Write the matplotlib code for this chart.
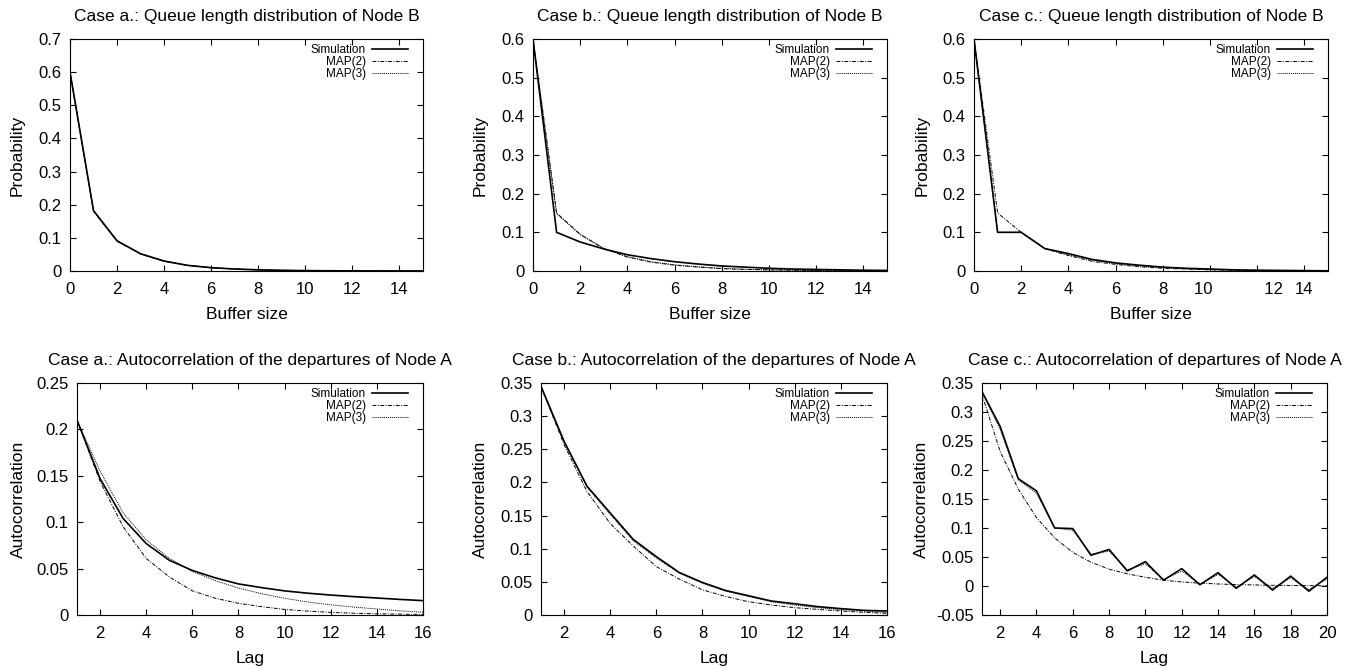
import matplotlib
matplotlib.use('Agg')
import matplotlib.pyplot as plt
from matplotlib.ticker import FuncFormatter

plt.rcParams['font.family'] = ['Liberation Sans', 'DejaVu Sans']

# queue length distributions of node B (buffer size 0..15)
buf = list(range(16))
qa_sim = [0.6, 0.182, 0.091, 0.052, 0.030, 0.017, 0.010, 0.006, 0.0035, 0.002, 0.0012, 0.0007, 0.0004, 0.0002, 0.0001, 0.0001]
qa_map2 = [0.6, 0.180, 0.090, 0.051, 0.029, 0.017, 0.010, 0.006, 0.0033, 0.0019, 0.0011, 0.0006, 0.0003, 0.0002, 0.0001, 0.0001]
qa_map3 = [0.6, 0.181, 0.091, 0.052, 0.030, 0.017, 0.010, 0.006, 0.0034, 0.002, 0.0011, 0.0006, 0.0004, 0.0002, 0.0001, 0.0001]

qb_sim = [0.6, 0.1, 0.075, 0.057, 0.042, 0.032, 0.024, 0.018, 0.013, 0.010, 0.007, 0.005, 0.004, 0.003, 0.002, 0.0015]
qb_map2 = [0.6, 0.15, 0.095, 0.058, 0.036, 0.023, 0.015, 0.010, 0.006, 0.004, 0.003, 0.002, 0.0012, 0.0008, 0.0005, 0.0003]
qb_map3 = [0.6, 0.148, 0.094, 0.058, 0.037, 0.024, 0.016, 0.011, 0.007, 0.0045, 0.003, 0.002, 0.0013, 0.0009, 0.0006, 0.0004]

qc_sim = [0.6, 0.1, 0.1, 0.058, 0.045, 0.030, 0.021, 0.015, 0.010, 0.007, 0.005, 0.003, 0.002, 0.0015, 0.001, 0.0005]
qc_map2 = [0.6, 0.15, 0.1, 0.058, 0.040, 0.025, 0.017, 0.011, 0.007, 0.005, 0.003, 0.002, 0.0013, 0.0009, 0.0006, 0.0004]
qc_map3 = [0.6, 0.1, 0.1, 0.058, 0.042, 0.028, 0.019, 0.013, 0.009, 0.006, 0.004, 0.0027, 0.0018, 0.0012, 0.0008, 0.0005]

# the case c. queue plot has its "10" and "12" labels pushed apart
buf_ticklabels = ['0', '2', '4', '6', '8', '10', '12', '14']
buf_ticklabels_c = ['0', '2', '4', '6', '8', '10   ', '       12', '14']

# autocorrelation of departures of node A
lag16 = list(range(1, 17))
lag20 = list(range(1, 21))
aa_sim = [0.21, 0.147, 0.104, 0.077, 0.059, 0.048, 0.040, 0.0335, 0.0295, 0.026, 0.0235, 0.0215, 0.0198, 0.0183, 0.0168, 0.0155]
aa_map2 = [0.21, 0.144, 0.095, 0.061, 0.041, 0.026, 0.018, 0.0126, 0.009, 0.006, 0.0042, 0.0028, 0.0019, 0.0013, 0.0009, 0.0006]
aa_map3 = [0.21, 0.155, 0.110, 0.081, 0.061, 0.047, 0.037, 0.029, 0.023, 0.018, 0.014, 0.011, 0.0085, 0.0065, 0.0045, 0.003]

ab_sim = [0.345, 0.262, 0.194, 0.154, 0.114, 0.088, 0.064, 0.049, 0.037, 0.029, 0.021, 0.017, 0.0126, 0.0096, 0.007, 0.006]
ab_map2 = [0.345, 0.257, 0.186, 0.138, 0.104, 0.073, 0.054, 0.038, 0.028, 0.020, 0.015, 0.011, 0.0085, 0.006, 0.004, 0.0025]
ab_map3 = [0.345, 0.261, 0.193, 0.152, 0.112, 0.086, 0.063, 0.048, 0.036, 0.028, 0.020, 0.015, 0.011, 0.008, 0.006, 0.004]

ac_sim = [0.335, 0.275, 0.185, 0.164, 0.100, 0.099, 0.053, 0.063, 0.026, 0.042, 0.010, 0.030, 0.002, 0.023, -0.004, 0.019, -0.007, 0.017, -0.009, 0.015]
ac_map2 = [0.33, 0.232, 0.167, 0.118, 0.083, 0.058, 0.041, 0.029, 0.021, 0.015, 0.010, 0.007, 0.005, 0.0035, 0.0025, 0.0018, 0.0012, 0.0009, 0.0006, 0.0004]
ac_map3 = [0.335, 0.27, 0.183, 0.160, 0.100, 0.096, 0.055, 0.060, 0.028, 0.038, 0.011, 0.026, 0.003, 0.020, -0.002, 0.016, -0.004, 0.014, -0.006, 0.012]

labels = ['Simulation', 'MAP(2)', 'MAP(3)']

W, H = 1359, 669
fig = plt.figure(figsize=(W / 100, H / 100), dpi=100)


def add_panel(box, x, sims, title, xlabel, ylabel, xlim, ylim, yticks, xticks, ylab_off, xticklabels=None):
    l, r, t, b = box
    aw, ah = r - l, b - t
    ax = fig.add_axes([l / W, 1 - b / H, aw / W, ah / H])
    ax.plot(x, sims[0], color='black', lw=1.2, label=labels[0])
    ax.plot(x, sims[1], color='black', lw=0.7, ls=(0, (4, 1.5, 1, 1.5)), label=labels[1])
    ax.plot(x, sims[2], color='black', lw=0.7, ls=(0, (1, 1)), label=labels[2])
    ax.set_xlim(*xlim)
    ax.set_ylim(*ylim)
    ax.set_xticks(xticks)
    if xticklabels is not None:
        ax.set_xticklabels(xticklabels)
    ax.set_yticks(yticks)
    ax.yaxis.set_major_formatter(FuncFormatter(lambda v, p: '%g' % round(v, 3)))
    ax.tick_params(direction='in', top=True, right=True, length=4, labelsize=12)
    ax.tick_params(axis='x', pad=8)
    ax.tick_params(axis='y', pad=6)
    ax.set_title(title, fontsize=12.5, pad=13)
    ax.set_xlabel(xlabel, fontsize=12.5, labelpad=7)
    ax.set_ylabel(ylabel, fontsize=12.5)
    ax.yaxis.set_label_coords(-(ylab_off - 8) / aw, 0.5)
    ax.legend(loc='upper right', bbox_to_anchor=(1 - 10 / aw, 1.0), borderaxespad=0,
              frameon=False, fontsize=8.5, markerfirst=False,
              handlelength=3.1, labelspacing=0.0, handletextpad=0.5)
    return ax


add_panel((70, 423, 39, 271), buf, (qa_sim, qa_map2, qa_map3),
          'Case a.: Queue length distribution of Node B', 'Buffer size', 'Probability',
          (0, 15), (0, 0.7), [0, 0.1, 0.2, 0.3, 0.4, 0.5, 0.6, 0.7], range(0, 15, 2), 53)
add_panel((533, 887, 39, 271), buf, (qb_sim, qb_map2, qb_map3),
          'Case b.: Queue length distribution of Node B', 'Buffer size', 'Probability',
          (0, 15), (0, 0.6), [0, 0.1, 0.2, 0.3, 0.4, 0.5, 0.6], range(0, 15, 2), 53)
add_panel((974, 1328, 39, 271), buf, (qc_sim, qc_map2, qc_map3),
          'Case c.: Queue length distribution of Node B', 'Buffer size', 'Probability',
          (0, 15), (0, 0.6), [0, 0.1, 0.2, 0.3, 0.4, 0.5, 0.6], range(0, 15, 2), 52,
          xticklabels=buf_ticklabels_c)
add_panel((77, 423, 383, 615), lag16, (aa_sim, aa_map2, aa_map3),
          'Case a.: Autocorrelation of the departures of Node A', 'Lag', 'Autocorrelation',
          (1, 16), (0, 0.25), [0, 0.05, 0.1, 0.15, 0.2, 0.25], range(2, 17, 2), 59)
add_panel((541, 887, 383, 615), lag16, (ab_sim, ab_map2, ab_map3),
          'Case b.: Autocorrelation of the departures of Node A', 'Lag', 'Autocorrelation',
          (1, 16), (0, 0.35), [0, 0.05, 0.1, 0.15, 0.2, 0.25, 0.3, 0.35], range(2, 17, 2), 61)
add_panel((982, 1327, 383, 615), lag20, (ac_sim, ac_map2, ac_map3),
          'Case c.: Autocorrelation of departures of Node A', 'Lag', 'Autocorrelation',
          (1, 20), (-0.05, 0.35), [-0.05, 0, 0.05, 0.1, 0.15, 0.2, 0.25, 0.3, 0.35], range(2, 21, 2), 61)

fig.savefig('out.png', dpi=100)
